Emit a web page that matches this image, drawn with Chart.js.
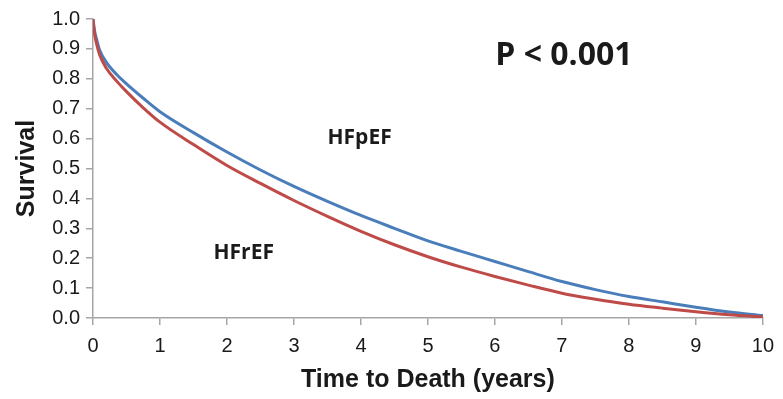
<!DOCTYPE html>
<html>
<head>
<meta charset="utf-8">
<title>Survival: HFpEF vs HFrEF</title>
<script src="https://cdn.jsdelivr.net/npm/chart.js@4/dist/chart.umd.min.js"></script>
<style>
    html, body { margin: 0; padding: 0; background: #fff; }
    #wrap { width: 783px; height: 399px; }
</style>
</head>
<body>
<div id="wrap"><canvas id="survivalChart" width="783" height="399"></canvas></div>
<script>
// Time points (years)
const years = [0, 0.02, 0.05, 0.1, 0.2, 0.35, 0.5, 0.75, 1, 1.5, 2, 2.5, 3, 3.5, 4, 4.5, 5, 5.5, 6, 6.5, 7, 7.5, 8, 8.5, 9, 9.5, 10];

// Survival fraction per group
const hfpef = [1.0, 0.965, 0.935, 0.895, 0.855, 0.815, 0.783, 0.735, 0.69, 0.62, 0.555, 0.495, 0.44, 0.39, 0.343, 0.30, 0.258, 0.223, 0.189, 0.155, 0.122, 0.095, 0.072, 0.054, 0.036, 0.02, 0.008];
const hfref = [1.0, 0.955, 0.92, 0.88, 0.835, 0.793, 0.757, 0.703, 0.655, 0.58, 0.51, 0.45, 0.393, 0.34, 0.29, 0.245, 0.205, 0.17, 0.139, 0.11, 0.083, 0.063, 0.046, 0.033, 0.021, 0.011, 0.004];

const xTicks = [0, 1, 2, 3, 4, 5, 6, 7, 8, 9, 10];
const yTicks = [0, 0.1, 0.2, 0.3, 0.4, 0.5, 0.6, 0.7, 0.8, 0.9, 1.0];

// Text labels placed in data coordinates
const notes = [
    { text: 'P < 0.001', x: 7.03, y: 0.877, size: 32 },
    { text: 'HFpEF', x: 3.98, y: 0.603, size: 21 },
    { text: 'HFrEF', x: 2.25, y: 0.218, size: 21 }
];

const COLORS = {
    blue: '#4a7ebb',
    red: '#be4b48',
    axis: '#a6a6a6',
    text: '#1a1a1a'
};

const toPoints = (xs, ys) => xs.map((x, i) => ({ x: x, y: ys[i] }));

/**
 * Annotation text (P value and group names)
 */
const notesPlugin = {
    id: 'notes',
    afterDatasetsDraw(chart) {
        const { ctx, scales } = chart;
        ctx.save();
        ctx.fillStyle = COLORS.text;
        ctx.textAlign = 'center';
        ctx.textBaseline = 'middle';
        notes.forEach(n => {
            ctx.font = 'bold ' + n.size + 'px "Open Sans", sans-serif';
            ctx.fillText(n.text, scales.x.getPixelForValue(n.x), scales.y.getPixelForValue(n.y));
        });
        ctx.restore();
    }
};

/**
 * Create survival curve chart
 */
function createSurvivalChart() {
    const ctx = document.getElementById('survivalChart');
    if (!ctx) return;

    new Chart(ctx, {
        type: 'line',
        data: {
            datasets: [{
                label: 'HFrEF',
                data: toPoints(years, hfref),
                borderColor: COLORS.red,
                borderWidth: 3,
                pointRadius: 0,
                cubicInterpolationMode: 'monotone',
                fill: false
            }, {
                label: 'HFpEF',
                data: toPoints(years, hfpef),
                borderColor: COLORS.blue,
                borderWidth: 3,
                pointRadius: 0,
                cubicInterpolationMode: 'monotone',
                fill: false
            }]
        },
        options: {
            responsive: false,
            animation: false,
            layout: { padding: { top: 19, right: 19, bottom: 0, left: 0 } },
            plugins: {
                legend: { display: false },
                tooltip: { enabled: false }
            },
            scales: {
                x: {
                    type: 'linear',
                    min: 0,
                    max: 10,
                    afterFit: s => { s.height = 81; },
                    afterBuildTicks: s => { s.ticks = xTicks.map(v => ({ value: v })); },
                    border: { color: COLORS.axis, width: 1.5 },
                    grid: { drawOnChartArea: false, drawTicks: true, tickLength: 7, color: COLORS.axis, lineWidth: 1.5 },
                    ticks: {
                        color: COLORS.text,
                        padding: 9,
                        maxRotation: 0,
                        font: { family: '"Liberation Sans", Arial, sans-serif', size: 20 }
                    },
                    title: {
                        display: true,
                        text: 'Time to Death (years)',
                        color: COLORS.text,
                        padding: { top: 0, bottom: 4 },
                        font: { family: '"Liberation Sans", Arial, sans-serif', size: 25, weight: 'bold' }
                    }
                },
                y: {
                    min: 0,
                    max: 1,
                    afterFit: s => { s.width = 93; },
                    afterBuildTicks: s => { s.ticks = yTicks.map(v => ({ value: v })); },
                    border: { color: COLORS.axis, width: 1.5 },
                    grid: { drawOnChartArea: false, drawTicks: true, tickLength: 7, color: COLORS.axis, lineWidth: 1.5 },
                    ticks: {
                        color: COLORS.text,
                        padding: 6,
                        callback: v => v.toFixed(1),
                        font: { family: '"Liberation Sans", Arial, sans-serif', size: 20 }
                    },
                    title: {
                        display: true,
                        text: 'Survival',
                        color: COLORS.text,
                        padding: { top: 12, bottom: 0 },
                        font: { family: '"Liberation Sans", Arial, sans-serif', size: 25, weight: 'bold' }
                    }
                }
            }
        },
        plugins: [notesPlugin]
    });
}

document.addEventListener('DOMContentLoaded', () => {
    createSurvivalChart();
});
</script>
</body>
</html>
